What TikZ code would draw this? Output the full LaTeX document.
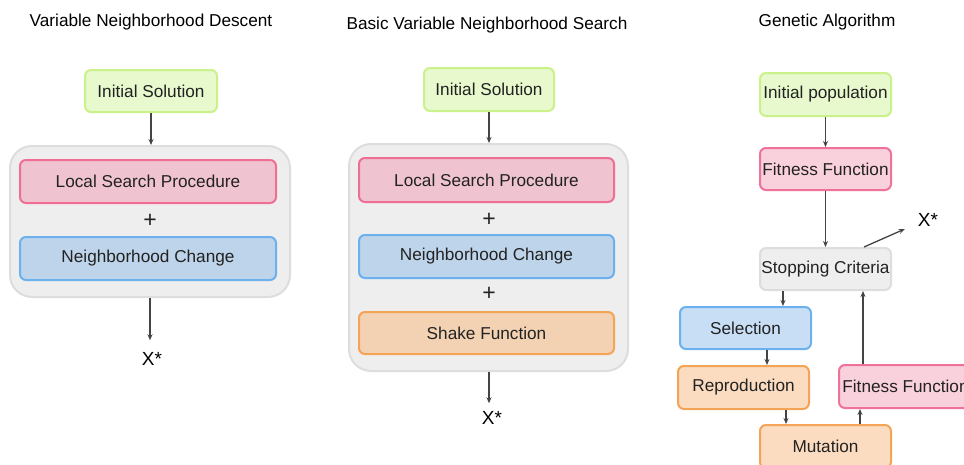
\documentclass[tikz,border=0pt]{standalone}
\usepackage{fontspec}
\setmainfont{Liberation Sans}
\usetikzlibrary{arrows.meta}
\definecolor{txt}{HTML}{222222}
\definecolor{arrc}{HTML}{444444}
\definecolor{grF}{HTML}{E7F9CD}\definecolor{grD}{HTML}{CBF18A}
\definecolor{pkF}{HTML}{EFC4D0}\definecolor{pkD}{HTML}{EF6E93}
\definecolor{pkF2}{HTML}{F9D1DD}\definecolor{pkD2}{HTML}{F07199}
\definecolor{blF}{HTML}{BED4EA}\definecolor{blD}{HTML}{6CB0EE}
\definecolor{blF2}{HTML}{C7DEF5}
\definecolor{orF}{HTML}{F3D1B3}\definecolor{orD}{HTML}{F4A456}
\definecolor{orF2}{HTML}{FCDCC0}
\definecolor{gyF}{HTML}{EEEEEE}\definecolor{gyD}{HTML}{DDDDDD}
\tikzset{
  lbl/.style={text=txt,font=\fontsize{23}{25}\selectfont,inner sep=0pt},
  title/.style={text=black,font=\fontsize{17.2}{20}\selectfont,inner sep=0pt},
  xs/.style={text=black,font=\fontsize{19}{21}\selectfont,inner sep=0pt},
  box/.style 2 args={draw=#2,fill=#1,line width=2pt,rounded corners=6pt,
     text=txt,font=\fontsize{17.2}{20}\selectfont,inner sep=0pt},
  cont/.style={draw=gyD,fill=gyF,line width=2pt,rounded corners=22pt,inner sep=0pt},
  arr/.style={draw=arrc,line width=1.3pt,-{Stealth[length=6pt,width=5pt]}},
}
\begin{document}
\begin{tikzpicture}[x=1pt,y=1pt]
\useasboundingbox (0,0) rectangle (964,-464);
\clip (0,0) rectangle (964,-464);
% ---------- left panel ----------
\node[title] (t1) at (151,-22) {Variable Neighborhood Descent};
\node[box={grF}{grD},minimum width=132pt,minimum height=42pt] (is1) at (151,-91) {Initial Solution};
\node[cont,minimum width=280pt,minimum height=151pt] (c1) at (150,-221.5) {};
\node[box={pkF}{pkD},minimum width=256pt,minimum height=43pt] (lsp1) at (148,-181.5) {Local Search Procedure};
\node[lbl] (p1) at (150,-221) {+};
\node[box={blF}{blD},minimum width=256pt,minimum height=43pt] (nc1) at (148,-258.5) {Neighborhood Change};
\node[xs] (x1) at (152,-359) {X*};
\draw[arr] (is1.south) -- (is1.south |- c1.north);
\draw[arr] (c1.south) -- ([yshift=12pt]x1.north -| c1.south);
% ---------- middle panel ----------
\node[title] (t2) at (487,-25) {Basic Variable Neighborhood Search};
\node[box={grF}{grD},minimum width=130pt,minimum height=43pt] (is2) at (489,-89.5) {Initial Solution};
\node[cont,minimum width=279pt,minimum height=227pt] (c2) at (488.5,-257.5) {};
\node[box={pkF}{pkD},minimum width=255pt,minimum height=44pt] (lsp2) at (486.5,-180) {Local Search Procedure};
\node[lbl] (p2a) at (489,-220) {+};
\node[box={blF}{blD},minimum width=255pt,minimum height=43pt] (nc2) at (486.5,-256.5) {Neighborhood Change};
\node[lbl] (p2b) at (489,-294) {+};
\node[box={orF}{orD},minimum width=255pt,minimum height=42pt] (sf2) at (486.5,-333) {Shake Function};
\node[xs] (x2) at (492,-418) {X*};
\draw[arr] (is2.south) -- (is2.south |- c2.north);
\draw[arr] (is2.south |- c2.south) -- ([yshift=8pt]x2.north -| is2.south);
% ---------- right panel ----------
\node[title] (t3) at (827,-22) {Genetic Algorithm};
\node[box={grF}{grD},minimum width=131pt,minimum height=43pt] (ip) at (825.5,-94.5) {Initial population};
\node[box={pkF2}{pkD2},minimum width=131pt,minimum height=42pt] (ff1) at (825.5,-169) {Fitness Function};
\node[box={gyF}{gyD},minimum width=131pt,minimum height=42pt] (sc) at (825.5,-269) {Stopping Criteria};
\node[xs] (x3) at (928,-220) {X*};
\node[box={blF2}{blD},minimum width=131pt,minimum height=42pt] (sel) at (745.5,-328) {Selection};
\node[box={orF2}{orD},minimum width=131pt,minimum height=43pt] (rep) at (743.5,-387.5) {Reproduction};
\node[box={orF2}{orD},minimum width=131pt,minimum height=43pt] (mut) at (825.5,-446.5) {Mutation};
\node[box={pkF2}{pkD2},minimum width=133pt,minimum height=43pt] (ff2) at (905.5,-386.5) {Fitness Function};
\draw[arr] (ip.south) -- (ff1.north);
\draw[arr] (ff1.south) -- (sc.north);
\draw[arr] ([xshift=38.5pt]sc.north) -- ([xshift=-13pt,yshift=-9pt]x3.west);
\draw[arr] ([xshift=-42.5pt]sc.south) -- ([xshift=-42.5pt]sc.south |- sel.north);
\draw[arr] ([xshift=21.5pt]sel.south) -- ([xshift=21.5pt]sel.south |- rep.north);
\draw[arr] ([xshift=42.5pt]rep.south) -- ([xshift=42.5pt]rep.south |- mut.north);
\draw[arr] ([xshift=34.5pt]mut.north) -- ([xshift=34.5pt]mut.north |- ff2.south);
\draw[arr] ([xshift=37.5pt]sc.south |- ff2.north) -- ([xshift=37.5pt]sc.south);
\end{tikzpicture}
\end{document}
